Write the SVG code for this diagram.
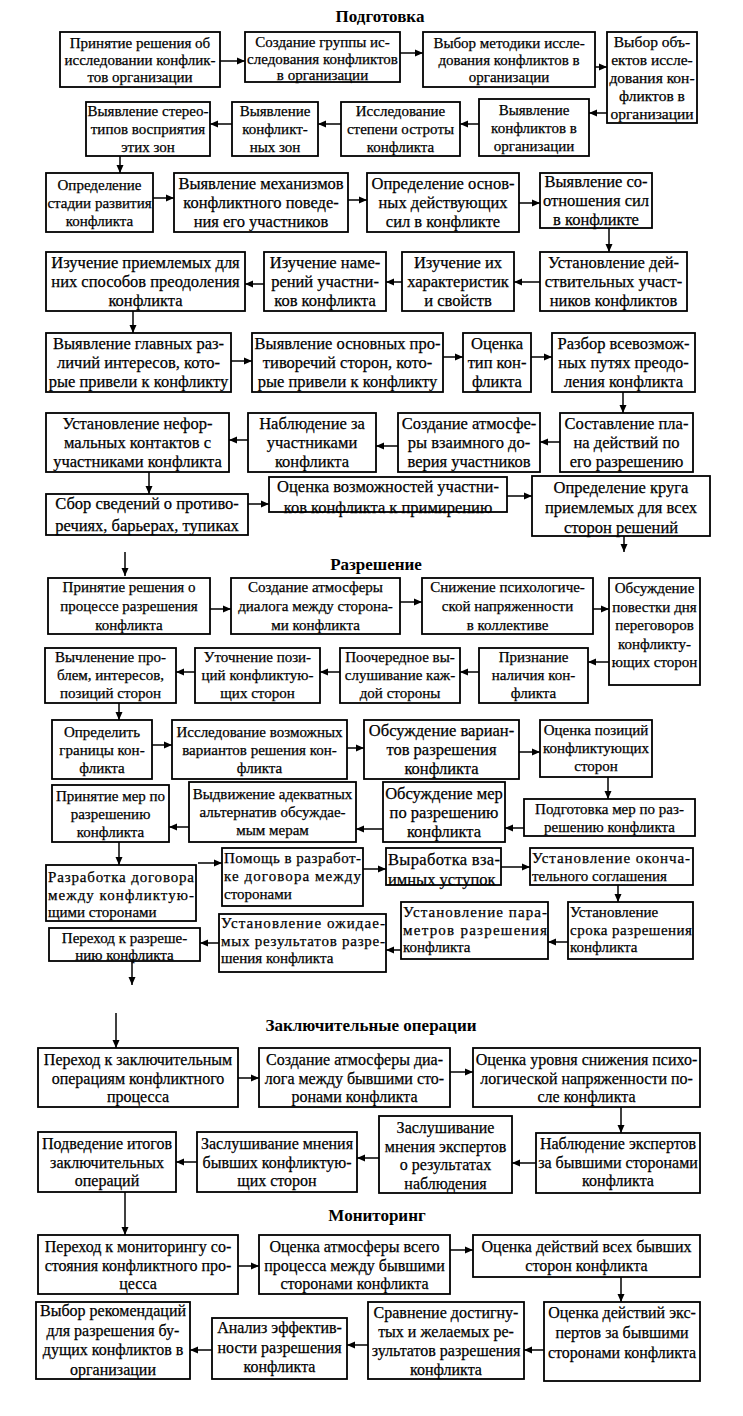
<svg xmlns="http://www.w3.org/2000/svg" width="743" height="1416" viewBox="0 0 743 1416">
<defs>
<marker id="a" markerWidth="9" markerHeight="8" refX="8" refY="4" orient="auto" markerUnits="userSpaceOnUse"><path d="M0,0.5 L8,4 L0,7.5 z" fill="#000"/></marker>
<style>
rect{fill:#fff;stroke:#000;stroke-width:1.8}
text{font-family:"Liberation Serif","Times New Roman",serif;fill:#000;stroke:#000;stroke-width:0.25}
.s{font-size:15px;text-anchor:middle}
.l{font-size:16.5px;text-anchor:middle}
.m{font-size:16px;text-anchor:middle}
.j{font-size:15px}
.jl{font-size:16.5px}
.h{font-size:17px;font-weight:bold;text-anchor:middle;stroke:none}
.c path{stroke:#000;stroke-width:1.5;fill:none;marker-end:url(#a)}
</style>
</defs>
<rect x="0" y="0" width="743" height="1416" style="fill:#fff;stroke:none"/>
<text class="h" x="380" y="22">Подготовка</text>
<text class="h" x="376" y="570">Разрешение</text>
<text class="h" x="371" y="1031">Заключительные операции</text>
<text class="h" x="377" y="1221">Мониторинг</text>

<g id="n1"><rect x="60" y="32" width="160" height="55"/><text class="s" y="47.5"><tspan x="140">Принятие решения об</tspan><tspan x="140" dy="17">исследовании конфлик-</tspan><tspan x="140" dy="17">тов организации</tspan></text></g>
<g id="n2"><rect x="245" y="32" width="155" height="50"/><text class="s" y="47"><tspan x="322.5">Создание группы ис-</tspan><tspan x="322.5" dy="16.5">следования конфликтов</tspan><tspan x="322.5" dy="16.5">в организации</tspan></text></g>
<g id="n3"><rect x="423" y="32" width="172" height="55"/><text class="s" y="47.5"><tspan x="509">Выбор методики иссле-</tspan><tspan x="509" dy="17">дования конфликтов в</tspan><tspan x="509" dy="17">организации</tspan></text></g>
<g id="n4"><rect x="607" y="32" width="90" height="91"/><text class="s" style="font-size:15.5px" y="47"><tspan x="652">Выбор объ-</tspan><tspan x="652" dy="18">ектов иссле-</tspan><tspan x="652" dy="18">дования кон-</tspan><tspan x="652" dy="18">фликтов в</tspan><tspan x="652" dy="18">организации</tspan></text></g>
<g id="n5"><rect x="86" y="102" width="124" height="54"/><text class="s" y="116"><tspan x="148">Выявление стерео-</tspan><tspan x="148" dy="18">типов восприятия</tspan><tspan x="148" dy="18">этих зон</tspan></text></g>
<g id="n6"><rect x="232" y="102" width="86" height="54"/><text class="s" y="116"><tspan x="275">Выявление</tspan><tspan x="275" dy="18">конфликт-</tspan><tspan x="275" dy="18">ных зон</tspan></text></g>
<g id="n7"><rect x="341" y="102" width="119" height="54"/><text class="s" y="116"><tspan x="400.5">Исследование</tspan><tspan x="400.5" dy="18">степени остроты</tspan><tspan x="400.5" dy="18">конфликта</tspan></text></g>
<g id="n8"><rect x="479" y="99" width="110" height="57"/><text class="s" y="114.5"><tspan x="534">Выявление</tspan><tspan x="534" dy="18">конфликтов в</tspan><tspan x="534" dy="18">организации</tspan></text></g>
<g id="n9"><rect x="46" y="173" width="107" height="59"/><text class="s" y="189.5"><tspan x="99.5">Определение</tspan><tspan x="99.5" dy="18">стадии развития</tspan><tspan x="99.5" dy="18">конфликта</tspan></text></g>
<g id="n10"><rect x="174" y="173" width="174" height="59"/><text class="l" y="189"><tspan x="261">Выявление механизмов</tspan><tspan x="261" dy="19">конфликтного поведе-</tspan><tspan x="261" dy="19">ния его участников</tspan></text></g>
<g id="n11"><rect x="367" y="173" width="152" height="59"/><text class="l" y="189"><tspan x="443">Определение основ-</tspan><tspan x="443" dy="19">ных действующих</tspan><tspan x="443" dy="19">сил в конфликте</tspan></text></g>
<g id="n12"><rect x="540" y="173" width="112" height="55"/><text class="l" y="187"><tspan x="596">Выявление со-</tspan><tspan x="596" dy="19">отношения сил</tspan><tspan x="596" dy="19">в конфликте</tspan></text></g>
<g id="n13"><rect x="46" y="252" width="199" height="59"/><text class="l" y="268"><tspan x="145.5">Изучение приемлемых для</tspan><tspan x="145.5" dy="19">них способов преодоления</tspan><tspan x="145.5" dy="19">конфликта</tspan></text></g>
<g id="n14"><rect x="264" y="252" width="122" height="59"/><text class="l" y="268"><tspan x="325">Изучение наме-</tspan><tspan x="325" dy="19">рений участни-</tspan><tspan x="325" dy="19">ков конфликта</tspan></text></g>
<g id="n15"><rect x="402" y="252" width="112" height="59"/><text class="l" y="268"><tspan x="458">Изучение их</tspan><tspan x="458" dy="19">характеристик</tspan><tspan x="458" dy="19">и свойств</tspan></text></g>
<g id="n16"><rect x="540" y="252" width="147" height="59"/><text class="l" y="268"><tspan x="613.5">Установление дей-</tspan><tspan x="613.5" dy="19">ствительных участ-</tspan><tspan x="613.5" dy="19">ников конфликтов</tspan></text></g>
<g id="n17"><rect x="46" y="333" width="185" height="59"/><text class="l" y="349"><tspan x="138.5">Выявление главных раз-</tspan><tspan x="138.5" dy="19">личий интересов, кото-</tspan><tspan x="138.5" dy="19">рые привели к конфликту</tspan></text></g>
<g id="n18"><rect x="252" y="333" width="191" height="59"/><text class="l" y="349"><tspan x="347.5">Выявление основных про-</tspan><tspan x="347.5" dy="19">тиворечий сторон, кото-</tspan><tspan x="347.5" dy="19">рые привели к конфликту</tspan></text></g>
<g id="n19"><rect x="463" y="333" width="68" height="59"/><text class="l" y="349"><tspan x="497">Оценка</tspan><tspan x="497" dy="19">тип кон-</tspan><tspan x="497" dy="19">фликта</tspan></text></g>
<g id="n20"><rect x="552" y="333" width="143" height="59"/><text class="l" y="349"><tspan x="623.5">Разбор всевозмож-</tspan><tspan x="623.5" dy="19">ных путях преодо-</tspan><tspan x="623.5" dy="19">ления конфликта</tspan></text></g>
<g id="n21"><rect x="46" y="413" width="183" height="59"/><text class="l" y="429"><tspan x="137.5">Установление нефор-</tspan><tspan x="137.5" dy="19">мальных контактов с</tspan><tspan x="137.5" dy="19">участниками конфликта</tspan></text></g>
<g id="n22"><rect x="248" y="413" width="128" height="59"/><text class="l" y="429"><tspan x="312">Наблюдение за</tspan><tspan x="312" dy="19">участниками</tspan><tspan x="312" dy="19">конфликта</tspan></text></g>
<g id="n23"><rect x="398" y="413" width="142" height="59"/><text class="l" y="429"><tspan x="469">Создание атмосфе-</tspan><tspan x="469" dy="19">ры взаимного до-</tspan><tspan x="469" dy="19">верия участников</tspan></text></g>
<g id="n24"><rect x="560" y="413" width="133" height="59"/><text class="l" y="429"><tspan x="626.5">Составление пла-</tspan><tspan x="626.5" dy="19">на действий по</tspan><tspan x="626.5" dy="19">его разрешению</tspan></text></g>
<g id="n25"><rect x="46" y="494" width="202" height="41"/><text class="l" y="509"><tspan x="147">Сбор сведений о противо-</tspan><tspan x="147" dy="22">речиях, барьерах, тупиках</tspan></text></g>
<g id="n26"><rect x="269" y="477" width="238" height="35"/><text class="l" y="492"><tspan x="388">Оценка возможностей участни-</tspan><tspan x="388" dy="21">ков конфликта к примирению</tspan></text></g>
<g id="n27"><rect x="532" y="476" width="178" height="60"/><text class="l" y="493"><tspan x="621">Определение круга</tspan><tspan x="621" dy="20">приемлемых для всех</tspan><tspan x="621" dy="20">сторон решений</tspan></text></g>

<g id="r1"><rect x="48" y="578" width="162" height="56"/><text class="s" y="592"><tspan x="129">Принятие решения о</tspan><tspan x="129" dy="19">процессе разрешения</tspan><tspan x="129" dy="19">конфликта</tspan></text></g>
<g id="r2"><rect x="231" y="578" width="169" height="56"/><text class="s" y="592"><tspan x="315.5">Создание атмосферы</tspan><tspan x="315.5" dy="19">диалога между сторона-</tspan><tspan x="315.5" dy="19">ми конфликта</tspan></text></g>
<g id="r3"><rect x="422" y="578" width="171" height="56"/><text class="s" y="592"><tspan x="507.5">Снижение психологиче-</tspan><tspan x="507.5" dy="19">ской напряженности</tspan><tspan x="507.5" dy="19">в коллективе</tspan></text></g>
<g id="r4"><rect x="609" y="578" width="91" height="107"/><text class="s" y="593"><tspan x="654.5">Обсуждение</tspan><tspan x="654.5" dy="18.5">повестки дня</tspan><tspan x="654.5" dy="18.5">переговоров</tspan><tspan x="654.5" dy="18.5">конфликту-</tspan><tspan x="654.5" dy="18.5">ющих сторон</tspan></text></g>
<g id="r5"><rect x="479" y="648" width="109" height="55"/><text class="s" y="662"><tspan x="533.5">Признание</tspan><tspan x="533.5" dy="18">наличия кон-</tspan><tspan x="533.5" dy="18">фликта</tspan></text></g>
<g id="r6"><rect x="340" y="648" width="120" height="55"/><text class="s" y="662"><tspan x="400">Поочередное вы-</tspan><tspan x="400" dy="18">слушивание каж-</tspan><tspan x="400" dy="18">дой стороны</tspan></text></g>
<g id="r7"><rect x="195" y="648" width="125" height="55"/><text class="s" y="662"><tspan x="257.5">Уточнение пози-</tspan><tspan x="257.5" dy="18">ций конфликтую-</tspan><tspan x="257.5" dy="18">щих сторон</tspan></text></g>
<g id="r8"><rect x="45" y="648" width="131" height="55"/><text class="s" y="662"><tspan x="110.5">Вычленение про-</tspan><tspan x="110.5" dy="18">блем, интересов,</tspan><tspan x="110.5" dy="18">позиций сторон</tspan></text></g>
<g id="r9"><rect x="52" y="720" width="100" height="59"/><text class="s" y="736.5"><tspan x="102">Определить</tspan><tspan x="102" dy="18">границы кон-</tspan><tspan x="102" dy="18">фликта</tspan></text></g>
<g id="r10"><rect x="172" y="720" width="175" height="59"/><text class="s" y="736.5"><tspan x="259.5">Исследование возможных</tspan><tspan x="259.5" dy="18">вариантов решения кон-</tspan><tspan x="259.5" dy="18">фликта</tspan></text></g>
<g id="r11"><rect x="364" y="720" width="155" height="59"/><text class="l" y="736"><tspan x="441.5">Обсуждение вариан-</tspan><tspan x="441.5" dy="19">тов разрешения</tspan><tspan x="441.5" dy="19">конфликта</tspan></text></g>
<g id="r12"><rect x="540" y="720" width="112" height="57"/><text class="s" y="735"><tspan x="596">Оценка позиций</tspan><tspan x="596" dy="18">конфликтующих</tspan><tspan x="596" dy="18">сторон</tspan></text></g>
<g id="r13"><rect x="52" y="785" width="117" height="57"/><text class="s" y="800.5"><tspan x="110.5">Принятие мер по</tspan><tspan x="110.5" dy="18">разрешению</tspan><tspan x="110.5" dy="18">конфликта</tspan></text></g>
<g id="r14"><rect x="189" y="782" width="167" height="60"/><text class="s" y="799"><tspan x="272.5">Выдвижение адекватных</tspan><tspan x="272.5" dy="18">альтернатив обсуждае-</tspan><tspan x="272.5" dy="18">мым мерам</tspan></text></g>
<g id="r15"><rect x="383" y="782" width="122" height="60"/><text class="l" y="798.5"><tspan x="444">Обсуждение мер</tspan><tspan x="444" dy="19">по разрешению</tspan><tspan x="444" dy="19">конфликта</tspan></text></g>
<g id="r16"><rect x="524" y="799" width="171" height="37"/><text class="s" y="813.5"><tspan x="609.5">Подготовка мер по раз-</tspan><tspan x="609.5" dy="18">решению конфликта</tspan></text></g>
<g id="r17"><rect x="46" y="865" width="150" height="56"/><text class="j"><tspan x="48" y="882" textLength="146" lengthAdjust="spacing">Разработка договора</tspan><tspan x="48" y="899.5" textLength="146" lengthAdjust="spacing">между конфликтую-</tspan><tspan x="48" y="917">щими сторонами</tspan></text></g>
<g id="r18"><rect x="222" y="848" width="141" height="58"/><text class="j"><tspan x="224" y="863" textLength="137" lengthAdjust="spacing">Помощь в разработ-</tspan><tspan x="224" y="881" textLength="137" lengthAdjust="spacing">ке договора между</tspan><tspan x="224" y="899">сторонами</tspan></text></g>
<g id="r19"><rect x="386" y="848" width="115" height="37"/><text class="jl"><tspan x="388" y="865" textLength="112" lengthAdjust="spacing">Выработка вза-</tspan><tspan x="388" y="885">имных уступок</tspan></text></g>
<g id="r20"><rect x="530" y="848" width="163" height="37"/><text class="j"><tspan x="532" y="863" textLength="158" lengthAdjust="spacing">Установление оконча-</tspan><tspan x="532" y="881">тельного соглашения</tspan></text></g>
<g id="r21"><rect x="568" y="902" width="125" height="57"/><text class="j"><tspan x="570" y="917">Установление</tspan><tspan x="570" y="934.5" textLength="122" lengthAdjust="spacing">срока разрешения</tspan><tspan x="570" y="952">конфликта</tspan></text></g>
<g id="r22"><rect x="401" y="902" width="147" height="57"/><text class="j"><tspan x="403" y="917" textLength="144" lengthAdjust="spacing">Установление пара-</tspan><tspan x="403" y="934.5" textLength="144" lengthAdjust="spacing">метров разрешения</tspan><tspan x="403" y="952">конфликта</tspan></text></g>
<g id="r23"><rect x="219" y="914" width="167" height="58"/><text class="j"><tspan x="221" y="928" textLength="164" lengthAdjust="spacing">Установление ожидае-</tspan><tspan x="221" y="946" textLength="164" lengthAdjust="spacing">мых результатов разре-</tspan><tspan x="221" y="963">шения конфликта</tspan></text></g>
<g id="r24"><rect x="49" y="928" width="151" height="33"/><text class="s" y="943"><tspan x="124.5">Переход к разреше-</tspan><tspan x="124.5" dy="17">нию конфликта</tspan></text></g>

<g id="z1"><rect x="38" y="1048" width="200" height="59"/><text class="m" y="1065"><tspan x="138">Переход к заключительным</tspan><tspan x="138" dy="18.5">операциям конфликтного</tspan><tspan x="138" dy="18.5">процесса</tspan></text></g>
<g id="z2"><rect x="259" y="1048" width="191" height="59"/><text class="m" y="1065"><tspan x="354.5">Создание атмосферы диа-</tspan><tspan x="354.5" dy="18.5">лога между бывшими сто-</tspan><tspan x="354.5" dy="18.5">ронами конфликта</tspan></text></g>
<g id="z3"><rect x="473" y="1048" width="227" height="59"/><text class="m" y="1065"><tspan x="586.5">Оценка уровня снижения психо-</tspan><tspan x="586.5" dy="18.5">логической напряженности по-</tspan><tspan x="586.5" dy="18.5">сле конфликта</tspan></text></g>
<g id="z4"><rect x="536" y="1133" width="164" height="60"/><text class="m" y="1149"><tspan x="618">Наблюдение экспертов</tspan><tspan x="618" dy="18.5">за бывшими сторонами</tspan><tspan x="618" dy="18.5">конфликта</tspan></text></g>
<g id="z5"><rect x="379" y="1116" width="133" height="77"/><text class="m" y="1133"><tspan x="445.5">Заслушивание</tspan><tspan x="445.5" dy="18.5">мнения экспертов</tspan><tspan x="445.5" dy="18.5">о результатах</tspan><tspan x="445.5" dy="18.5">наблюдения</tspan></text></g>
<g id="z6"><rect x="197" y="1132" width="160" height="60"/><text class="m" y="1149"><tspan x="277">Заслушивание мнения</tspan><tspan x="277" dy="18.5">бывших конфликтую-</tspan><tspan x="277" dy="18.5">щих сторон</tspan></text></g>
<g id="z7"><rect x="38" y="1132" width="138" height="60"/><text class="m" y="1149"><tspan x="107">Подведение итогов</tspan><tspan x="107" dy="18.5">заключительных</tspan><tspan x="107" dy="18.5">операций</tspan></text></g>

<g id="m1"><rect x="38" y="1235" width="200" height="59"/><text class="m" y="1252"><tspan x="138">Переход к мониторингу со-</tspan><tspan x="138" dy="18.5">стояния конфликтного про-</tspan><tspan x="138" dy="18.5">цесса</tspan></text></g>
<g id="m2"><rect x="259" y="1235" width="191" height="59"/><text class="m" y="1252"><tspan x="354.5">Оценка атмосферы всего</tspan><tspan x="354.5" dy="18.5">процесса между бывшими</tspan><tspan x="354.5" dy="18.5">сторонами конфликта</tspan></text></g>
<g id="m3"><rect x="473" y="1235" width="227" height="42"/><text class="m" y="1252"><tspan x="586.5">Оценка действий всех бывших</tspan><tspan x="586.5" dy="18.5">сторон конфликта</tspan></text></g>
<g id="m4"><rect x="544" y="1302" width="156" height="79"/><text class="m" y="1318"><tspan x="622">Оценка действий экс-</tspan><tspan x="622" dy="20">пертов за бывшими</tspan><tspan x="622" dy="20">сторонами конфликта</tspan></text></g>
<g id="m5"><rect x="368" y="1302" width="156" height="77"/><text class="m" y="1318"><tspan x="446">Сравнение достигну-</tspan><tspan x="446" dy="19">тых и желаемых ре-</tspan><tspan x="446" dy="19">зультатов разрешения</tspan><tspan x="446" dy="19">конфликта</tspan></text></g>
<g id="m6"><rect x="212" y="1318" width="135" height="61"/><text class="m" y="1333"><tspan x="279.5">Анализ эффектив-</tspan><tspan x="279.5" dy="19.5">ности разрешения</tspan><tspan x="279.5" dy="19.5">конфликта</tspan></text></g>
<g id="m7"><rect x="36" y="1302" width="154" height="77"/><text class="m" y="1316"><tspan x="113">Выбор рекомендаций</tspan><tspan x="113" dy="19.5">для разрешения бу-</tspan><tspan x="113" dy="19.5">дущих конфликтов в</tspan><tspan x="113" dy="19.5">организации</tspan></text></g>

<g id="connectors" class="c">
<path d="M220,61 H245"/><path d="M400,53 H423"/><path d="M595,67 H607"/>
<path d="M607,113 H589"/><path d="M479,124 H460"/><path d="M341,124 H318"/><path d="M232,124 H210"/>
<path d="M120,156 V173"/>
<path d="M153,198 H174"/><path d="M348,200 H367"/><path d="M519,203 H540"/>
<path d="M609,228 V252"/>
<path d="M540,282 H514"/><path d="M402,282 H386"/><path d="M264,284 H245"/>
<path d="M133,311 V333"/>
<path d="M231,361 H252"/><path d="M443,357 H463"/><path d="M531,357 H552"/>
<path d="M623,392 V413"/>
<path d="M560,442 H540"/><path d="M398,446 H376"/><path d="M248,440 H229"/>
<path d="M149,472 V494"/>
<path d="M248,504 H269"/><path d="M507,496 H532"/>
<path d="M624,536 V552"/>
<path d="M125,552 V576"/>
<path d="M210,609 H231"/><path d="M400,602 H422"/><path d="M593,609 H609"/>
<path d="M609,662 H588"/><path d="M479,672 H460"/><path d="M340,672 H320"/><path d="M195,672 H176"/>
<path d="M119,703 V720"/>
<path d="M152,745 H172"/><path d="M347,748 H364"/><path d="M519,752 H540"/>
<path d="M608,777 V799"/>
<path d="M524,828 H505"/><path d="M383,829 H356"/><path d="M189,827 H169"/>
<path d="M119,842 V865"/>
<path d="M198,863 H222"/><path d="M363,869 H386"/><path d="M501,867 H530"/>
<path d="M618,885 V902"/>
<path d="M568,942 H548"/><path d="M401,950 H386"/><path d="M219,943 H200"/>
<path d="M132,961 V985"/>
<path d="M116,1013 V1048"/>
<path d="M238,1078 H259"/><path d="M450,1072 H473"/>
<path d="M621,1107 V1133"/>
<path d="M536,1163 H512"/><path d="M379,1158 H357"/><path d="M197,1162 H176"/>
<path d="M125,1192 V1235"/>
<path d="M238,1266 H259"/><path d="M450,1250 H473"/>
<path d="M621,1277 V1302"/>
<path d="M544,1350 H524"/><path d="M368,1345 H347"/><path d="M212,1350 H190"/>
</g>
</svg>
